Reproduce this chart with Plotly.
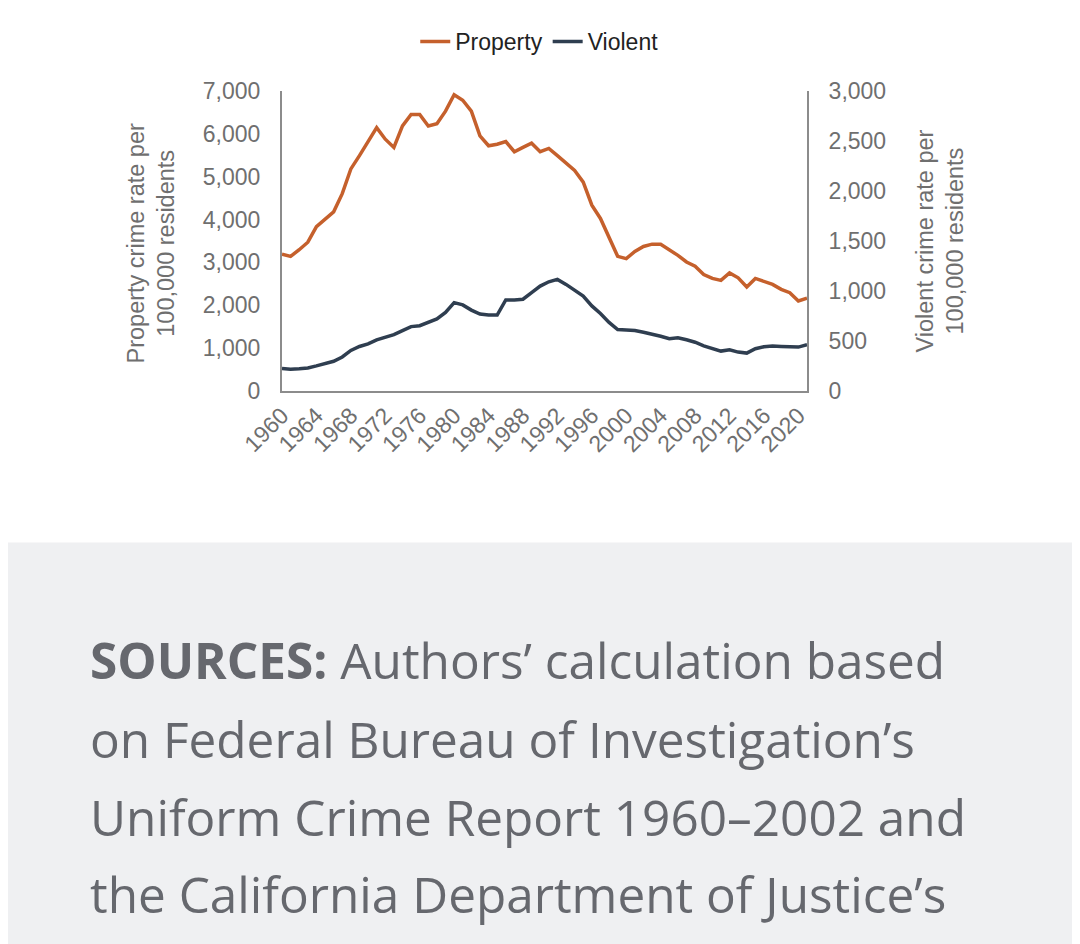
import plotly.graph_objects as go

years = list(range(1960, 2022))
property_rate = [3195, 3142, 3296, 3472, 3835, 4003, 4181, 4604, 5182, 5491,
                 5837, 6145, 5875, 5683, 6184, 6452, 6452, 6184, 6237, 6530,
                 6914, 6784, 6530, 5953, 5722, 5759, 5821, 5583, 5683, 5782,
                 5583, 5660, 5491, 5320, 5144, 4874, 4336, 4026, 3564, 3142,
                 3088, 3257, 3373, 3426, 3426, 3296, 3165, 3010, 2911, 2719,
                 2626, 2580, 2756, 2641, 2426, 2626, 2548, 2488, 2372, 2294,
                 2102, 2164]
violent_rate = [225, 218, 222, 231, 251, 274, 297, 340, 406, 445,
                472, 512, 538, 564, 604, 644, 653, 686, 720, 785,
                884, 861, 809, 769, 759, 759, 911, 911, 918, 983,
                1049, 1092, 1116, 1066, 1007, 950, 851, 775, 686, 614,
                611, 604, 587, 571, 548, 522, 532, 512, 488, 452,
                423, 399, 413, 389, 379, 423, 443, 449, 445, 439,
                439, 462]
tick_years = list(range(1960, 2021, 4))
source_lines = [
    "<b>SOURCES:</b> Authors\u2019 calculation based",
    "on Federal Bureau of Investigation\u2019s",
    "Uniform Crime Report 1960\u20132002 and",
    "the California Department of Justice\u2019s",
]

OFF = 8  # page body margin
W, H = 1080 - OFF, 944 - OFF
L, R, T, B = 282 - OFF, 807 - OFF, 88 - OFF, 391 - OFF


def py(p):
    p = p - OFF
    return (B - p) / (B - T)


def px(p):
    p = p - OFF
    return (p - L) / (R - L)


fig = go.Figure()
fig.add_trace(go.Scatter(x=years, y=property_rate, name="Property", mode="lines",
                         line=dict(color="#c5602c", width=3.5)))
fig.add_trace(go.Scatter(x=years, y=violent_rate, name="Violent", mode="lines",
                         line=dict(color="#2f3e50", width=3.5), yaxis="y2"))

FONT = "Liberation Sans, Arial"
GREY = "#6f6f6f"
tickfont = dict(family=FONT, size=23, color=GREY)
fig.update_layout(
    width=W, height=H,
    margin=dict(l=L, r=W - R, t=T, b=H - B),
    paper_bgcolor="white", plot_bgcolor="white",
    showlegend=True,
    legend=dict(orientation="h", x=0.49, xanchor="center", y=py(38), yanchor="middle",
                font=dict(family=FONT, size=23, color="#222222"),
                itemwidth=30, tracegroupgap=0),
    xaxis=dict(range=[1960, 2021], tickvals=tick_years, ticktext=[str(y) for y in tick_years],
               tickangle=-45, tickfont=dict(family=FONT, size=23, color=GREY),
               showgrid=False, zeroline=False,
               showline=True, linecolor="#8c8c8c", linewidth=2, ticks=""),
    yaxis=dict(range=[0, 7000], dtick=1000, tickformat=",", tickfont=tickfont,
               showgrid=False, zeroline=False, showline=True, linecolor="#8c8c8c",
               linewidth=2, ticks="", ticklabelstandoff=15),
    yaxis2=dict(range=[0, 3000], dtick=500, tickformat=",", tickfont=tickfont,
                overlaying="y", side="right", showgrid=False, zeroline=False,
                showline=True, linecolor="#8c8c8c", linewidth=2, ticks="",
                ticklabelstandoff=15),
)

# axis titles
fig.add_annotation(text="Property crime rate per<br>100,000 residents", xref="paper", yref="paper",
                   x=px(151), y=py(242), xanchor="center", yanchor="middle",
                   textangle=-90, showarrow=False,
                   font=dict(family=FONT, size=23.5, color=GREY))
fig.add_annotation(text="Violent crime rate per<br>100,000 residents", xref="paper", yref="paper",
                   x=px(940), y=py(240), xanchor="center", yanchor="middle",
                   textangle=-90, showarrow=False,
                   font=dict(family=FONT, size=23.5, color=GREY))

# grey source band
fig.add_shape(type="rect", xref="paper", yref="paper", x0=px(8), x1=px(1090), y0=py(544), y1=py(960),
              fillcolor="#eff0f2", line=dict(width=0), layer="below")

line_centers = [664, 743, 822, 900]
for txt, c in zip(source_lines, line_centers):
    fig.add_annotation(text=txt, xref="paper", yref="paper", x=px(88), y=py(c - 1),
                       xanchor="left", yanchor="middle", showarrow=False, align="left",
                       font=dict(family="Open Sans", size=49.5, color="#66686e"))

fig.write_html("out.html")
